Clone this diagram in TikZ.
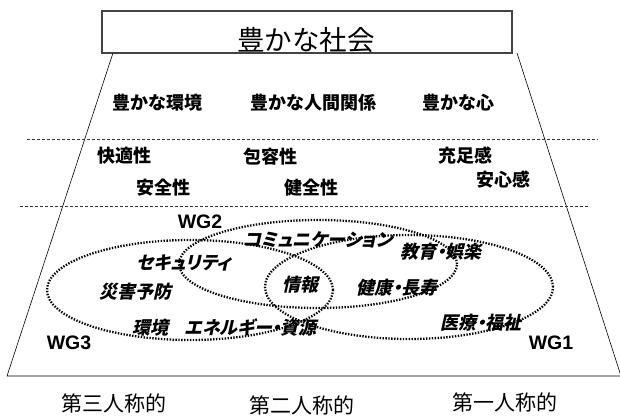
\documentclass[tikz,border=0pt]{standalone}
\usepackage{fontspec}
\usetikzlibrary{shapes.geometric}
\newfontfamily\jp{Noto Sans CJK JP}
\newfontfamily\jpsl{Noto Sans CJK JP}[FakeSlant=0.22,RawFeature=+palt]
\newfontfamily\wgf{Liberation Sans}
\definecolor{linegray}{HTML}{333333}
\definecolor{boxgray}{HTML}{444444}
\tikzset{
  lbl/.style={font=\jp\bfseries\fontsize{18}{20}\selectfont, inner sep=0pt},
  itl/.style={font=\jpsl\bfseries\fontsize{18}{20}\selectfont, inner sep=0pt},
  wg/.style={font=\wgf\bfseries\fontsize{19.5}{22}\selectfont, inner sep=0pt},
  person/.style={font=\jp\fontsize{21}{23}\selectfont, inner sep=0pt},
  divider/.style={draw=linegray, line width=0.6pt, dash pattern=on 3pt off 2pt},
  edge/.style={draw=black, line width=0.6pt},
  wgring/.style={ellipse, draw=black, line width=2.3pt, dash pattern=on 1.4pt off 1.5pt, inner sep=0pt},
}
\begin{document}
\begin{tikzpicture}[x=1pt,y=-1pt]
\useasboundingbox (0,0) rectangle (620,415);
% title box
\node[draw=boxgray, line width=1.2pt, minimum width=410pt, minimum height=42pt, inner sep=0pt] (box) at (307,32) {};
\node[font=\jp\fontsize{27.5}{30}\selectfont, inner sep=0pt] (title) at (306,40) {豊かな社会};
% trapezoid
\coordinate (tl) at (113,53);
\coordinate (tr) at (517,53);
\coordinate (bl) at (7,376);
\coordinate (br) at (621,376);
\draw[edge] (tl) -- (bl) -- (br) -- (tr);
% dashed dividers
\coordinate (d1a) at (27,139); \coordinate (d1b) at (598,139);
\coordinate (d2a) at (20,206); \coordinate (d2b) at (590,206);
\draw[divider] (d1a) -- (d1b);
\draw[divider] (d2a) -- (d2b);
% upper labels
\node[lbl] (env) at (157,103) {豊かな環境};
\node[lbl] (rel) at (313,103) {豊かな人間関係};
\node[lbl] (mind) at (458,103) {豊かな心};
\node[lbl] (kai) at (124,156) {快適性};
\node[lbl] (hou) at (270,157) {包容性};
\node[lbl] (juu) at (465,156) {充足感};
\node[lbl] (anz) at (163,188) {安全性};
\node[lbl] (ken) at (311,188) {健全性};
\node[lbl] (ans) at (503,180) {安心感};
% ellipses
\node[wgring, minimum width=286pt, minimum height=100pt] (e3) at (190,290) {};
\node[wgring, minimum width=288pt, minimum height=104pt] (e1) at (409,287) {};
\node[wgring, minimum width=278pt, minimum height=88pt] (e2) at (318,264) {};
% WG labels
\node[wg] (wg2) at (200,222) {WG2};
\node[wg] (wg3) at (69,343) {WG3};
\node[wg] (wg1) at (551,343) {WG1};
% italic labels
\node[itl] (comm) at (318,240) {コミュニケーション};
\node[itl] (edu) at (441,252) {教育・娯楽};
\node[itl] (sec) at (184,263) {セキュリティ};
\node[itl] (info) at (300,285) {情報};
\node[itl] (dis) at (135,292) {災害予防};
\node[itl] (hlth) at (397,288) {健康・長寿};
\node[itl] (kank) at (150,328) {環境};
\node[itl] (enrg) at (251,327) {エネルギー・資源};
\node[itl] (med) at (481,323) {医療・福祉};
% bottom labels
\node[person] (p3) at (114,403) {第三人称的};
\node[person] (p2) at (302,405) {第二人称的};
\node[person] (p1) at (505,402) {第一人称的};
\end{tikzpicture}
\end{document}
